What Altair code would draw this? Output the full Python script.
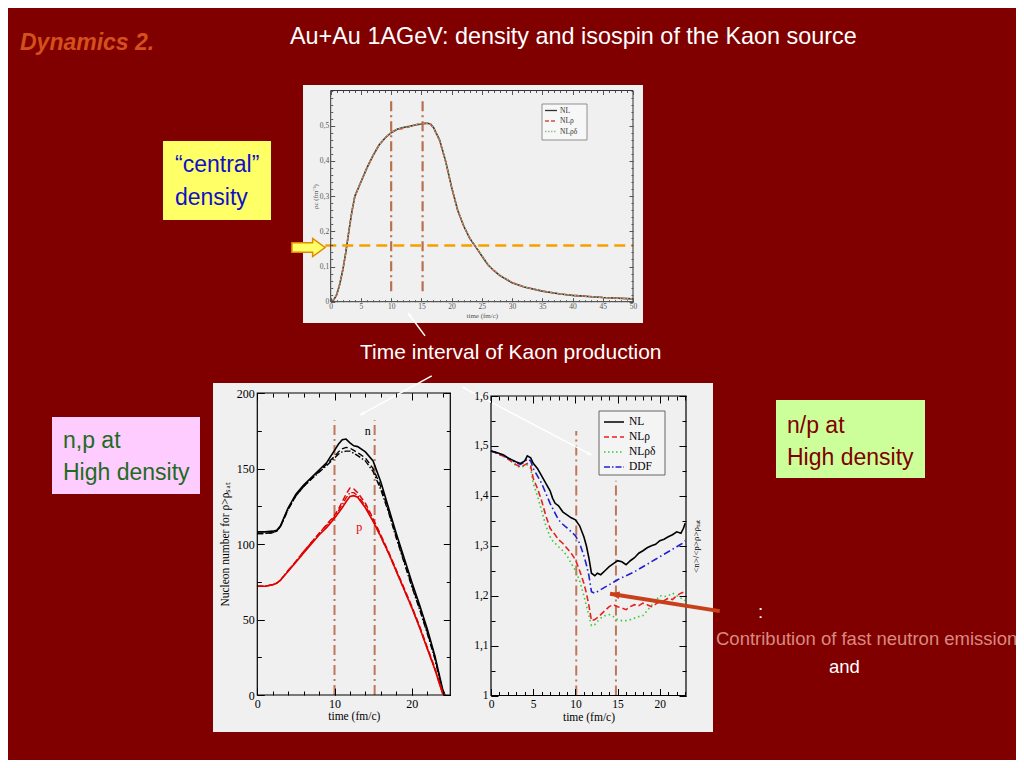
import altair as alt
import pandas as pd

W, H = 1008, 752
OFF = 8


def X(v):
    return v - OFF


def Y(v):
    return v - OFF


# ---------------- data ----------------
top_t = [0, 0.5, 1, 1.5, 2, 2.5, 3, 3.5, 4, 5, 6, 7, 8, 9, 10, 11, 12, 13, 14, 15, 16, 16.5,
         17, 18, 19, 20, 21, 22, 23, 24, 25, 26, 27, 28, 30, 32, 35, 38, 40, 45, 50]
top_nl = [0.0, 0.005, 0.02, 0.05, 0.09, 0.14, 0.2, 0.255, 0.3, 0.34, 0.38, 0.415, 0.445, 0.465,
          0.48, 0.49, 0.495, 0.498, 0.502, 0.505, 0.507, 0.505, 0.495, 0.46, 0.40, 0.325, 0.26,
          0.215, 0.18, 0.155, 0.13, 0.105, 0.088, 0.074, 0.054, 0.042, 0.03, 0.022, 0.018, 0.012, 0.008]
top_nlr = [0.0, 0.005, 0.021, 0.051, 0.091, 0.141, 0.2, 0.256, 0.3, 0.341, 0.381, 0.416, 0.446, 0.466,
           0.482, 0.489, 0.492, 0.497, 0.503, 0.507, 0.508, 0.504, 0.493, 0.458, 0.398, 0.324, 0.26,
           0.216, 0.181, 0.156, 0.131, 0.106, 0.089, 0.075, 0.055, 0.042, 0.03, 0.022, 0.018, 0.012, 0.008]
top_nlrd = [0.0, 0.005, 0.02, 0.05, 0.09, 0.14, 0.2, 0.255, 0.3, 0.34, 0.38, 0.415, 0.445, 0.466,
            0.481, 0.49, 0.494, 0.498, 0.503, 0.506, 0.507, 0.505, 0.494, 0.459, 0.399, 0.325, 0.261,
            0.216, 0.181, 0.156, 0.131, 0.106, 0.089, 0.075, 0.055, 0.042, 0.031, 0.022, 0.018, 0.012, 0.008]
top_vlines = [10, 15.2]
top_vline_from = [0.03, 0.03]
top_vline_to = [0.57, 0.57]
sat_density = 0.16
top_names = ["NL", "NLρ", "NLρδ"]

bl_t = [0, 1, 2, 2.5, 3, 4, 5, 6, 7, 8, 9, 10, 10.5, 11, 11.5, 12, 12.5, 13, 14, 15, 16, 17, 18,
        19, 20, 21, 22, 23, 23.5, 24, 24.3]
n_nl = [108, 108, 108.5, 109, 112, 124, 133, 139, 144, 149, 154, 162, 166, 169, 169.5, 167, 165,
        164.5, 161, 155, 141, 124, 107, 91, 75, 60, 44, 26, 15, 4, 0]
n_nlr = [107, 107, 107.5, 108.5, 111.5, 123, 132, 138, 143, 148, 153, 158, 161, 163, 164, 163.5,
         162, 160.5, 157, 150, 138, 122, 105, 89, 73, 58, 42, 25, 14, 3, 0]
n_nlrd = [107, 107, 107.5, 108.5, 111.5, 123, 132, 138, 143, 147.5, 152, 157, 159.5, 161, 161.5,
          161.5, 160, 158.5, 155, 148, 136, 121, 104, 88, 72, 57, 41, 24, 13, 3, 0]
p_nl = [72, 72, 73, 74, 76, 82, 88, 94, 100, 106, 111, 117, 120.5, 124, 128, 131.5, 132, 131, 124,
        115, 105, 94, 82, 70, 58, 45, 31, 17, 9, 1, 0]
p_nlr = [72, 72, 73, 74, 76, 82.5, 88.5, 95, 101, 107, 113, 119, 123, 128, 133, 137, 136.5, 134,
         127, 117, 106, 95, 83, 71, 59, 46, 32, 18, 10, 2, 0]
p_nlrd = [72, 72, 73, 74, 76, 82.5, 88.5, 95, 101, 107, 112.5, 118, 122, 126, 130.5, 134, 134, 132,
          125.5, 115.5, 104.5, 94, 82, 70, 58, 45, 31, 17, 9, 1.5, 0]
bl_vlines = [10, 15.2]
bl_vline_from = [0, 0]
bl_vline_to = [182, 182]
bl_labels = ["n", "p"]
bl_label_t = [14.3, 13.2]
bl_label_v = [175, 111]

br_t = [0, 0.5, 1, 1.5, 2, 2.5, 3, 3.5, 4, 4.3, 4.7, 5, 5.5, 6, 6.5, 7, 7.3, 7.6, 8, 8.5, 9, 9.5,
        10, 10.5, 11, 11.3, 11.6, 11.9, 12.3, 12.6, 13, 13.5, 14, 14.5, 15, 15.5, 16, 16.5, 17,
        17.5, 18, 18.5, 19, 19.5, 20, 20.5, 21, 21.5, 22, 22.5, 22.8, 23]
br_nl = [1.49, 1.488, 1.485, 1.482, 1.476, 1.472, 1.468, 1.465, 1.47, 1.48, 1.476, 1.465, 1.455,
         1.44, 1.425, 1.41, 1.395, 1.385, 1.38, 1.368, 1.362, 1.356, 1.352, 1.34, 1.318, 1.3, 1.275,
         1.245, 1.24, 1.245, 1.242, 1.25, 1.258, 1.264, 1.27, 1.268, 1.262, 1.27, 1.276, 1.285,
         1.29, 1.296, 1.3, 1.303, 1.31, 1.313, 1.318, 1.322, 1.328, 1.325, 1.335, 1.345]
br_nlr = [1.49, 1.487, 1.483, 1.479, 1.474, 1.468, 1.462, 1.458, 1.462, 1.465, 1.46, 1.435, 1.415,
          1.39, 1.36, 1.335, 1.328, 1.322, 1.312, 1.305, 1.295, 1.285, 1.272, 1.25, 1.225, 1.205,
          1.18, 1.15, 1.152, 1.156, 1.162, 1.17, 1.178, 1.182, 1.178, 1.175, 1.172, 1.178, 1.182,
          1.18, 1.185, 1.182, 1.178, 1.183, 1.188, 1.19, 1.195, 1.192, 1.2, 1.205, 1.207, 1.21]
br_nlrd = [1.49, 1.487, 1.483, 1.479, 1.474, 1.468, 1.46, 1.457, 1.46, 1.462, 1.455, 1.425, 1.4,
           1.37, 1.34, 1.318, 1.31, 1.305, 1.298, 1.29, 1.28, 1.265, 1.25, 1.23, 1.2, 1.18, 1.16,
           1.14, 1.142, 1.148, 1.155, 1.16, 1.162, 1.158, 1.152, 1.15, 1.15, 1.152, 1.155, 1.158,
           1.16, 1.17, 1.18, 1.19, 1.2, 1.198, 1.2, 1.205, 1.2, 1.195, 1.192, 1.19]
br_ddf = [1.49, 1.487, 1.484, 1.48, 1.476, 1.471, 1.466, 1.463, 1.468, 1.474, 1.47, 1.455, 1.44,
          1.425, 1.405, 1.385, 1.375, 1.365, 1.352, 1.343, 1.336, 1.328, 1.32, 1.305, 1.28, 1.262,
          1.24, 1.208, 1.205, 1.208, 1.212, 1.217, 1.222, 1.227, 1.232, 1.236, 1.24, 1.244, 1.248,
          1.253, 1.258, 1.263, 1.268, 1.273, 1.278, 1.283, 1.288, 1.293, 1.298, 1.303, 1.306, 1.31]
br_vlines = [10.1, 14.8]
br_vline_from = [1.0, 1.0]
br_vline_to = [1.53, 1.43]
br_names = ["NL", "NLρ", "NLρδ", "DDF"]

# annotation arrows, in the data units of the panel they point into
top_arrow = [15.6, -0.097, 12.8, -0.032]
bl_arrow = [22.6, 211.3, 13.3, 185.4]
br_arrow_white = [-3.4, 1.618, 11.9, 1.482]
br_arrow_red = [27.1, 1.169, 14.1, 1.204]

# ---------------- helpers ----------------
one = pd.DataFrame({"k": [0]})
SERIF = "Liberation Serif"
SANS = "Liberation Sans"


def sc(dom, rng):
    return alt.Scale(domain=dom, range=rng, nice=False, zero=False)


def rect(x1, y1, x2, y2, **kw):
    return alt.Chart(one).mark_rect(**kw).encode(
        x=alt.value(X(x1)), x2=alt.value(X(x2)), y=alt.value(Y(y1)), y2=alt.value(Y(y2)))


def text(s, x, y, size, color, font=SANS, **kw):
    return alt.Chart(one).mark_text(text=s, fontSize=size, color=color, font=font,
                                    align=kw.pop("align", "left"),
                                    baseline=kw.pop("baseline", "alphabetic"), **kw).encode(
        x=alt.value(X(x)), y=alt.value(Y(y)))


def seg(x1, x2, y, color, dash=None, w=1.2):
    kw = dict(color=color, strokeWidth=w)
    if dash:
        kw["strokeDash"] = dash
    return alt.Chart(one).mark_rule(**kw).encode(
        x=alt.value(X(x1)), x2=alt.value(X(x2)), y=alt.value(Y(y)))


def series(ts, vs, sx, sy, color, dash=None, w=1.5):
    df = pd.DataFrame({"t": ts, "v": vs})
    kw = dict(color=color, strokeWidth=w)
    if dash:
        kw["strokeDash"] = dash
    return alt.Chart(df).mark_line(**kw).encode(
        x=alt.X("t:Q", scale=sx, axis=None), y=alt.Y("v:Q", scale=sy, axis=None))


def vrules(ts, a, b, sx, sy, color="#c0765a", w=2):
    df = pd.DataFrame({"t": ts, "a": a, "b": b})
    return alt.Chart(df).mark_rule(color=color, strokeWidth=w, strokeDash=[10, 4, 2, 4]).encode(
        x=alt.X("t:Q", scale=sx, axis=None), y=alt.Y("a:Q", scale=sy, axis=None), y2="b:Q")


HEAD = "M 0 0 L 2 -0.8 L 2 0.8 Z"


def arrow(coords, sx, sy, color, w, angle, size):
    df = pd.DataFrame({"x1": [coords[0]], "y1": [coords[1]], "x2": [coords[2]], "y2": [coords[3]]})
    line = alt.Chart(df).mark_rule(color=color, strokeWidth=w).encode(
        x=alt.X("x1:Q", scale=sx, axis=None), y=alt.Y("y1:Q", scale=sy, axis=None),
        x2="x2:Q", y2="y2:Q")
    head = alt.Chart(df).mark_point(shape=HEAD, angle=angle, filled=True, color=color, size=size,
                                    opacity=1).encode(
        x=alt.X("x2:Q", scale=sx, axis=None), y=alt.Y("y2:Q", scale=sy, axis=None))
    return [line, head]


def ax(orient, box, ts, values, color="#000", labels=False, title="", **kw):
    l, t, r, b = X(box[0]), Y(box[1]), X(box[2]), Y(box[3])
    if orient == "bottom":
        off = (b - ts) - H
    elif orient == "top":
        off = -(t + ts)
    elif orient == "left":
        off = -(l + ts)
    else:
        off = (r - ts) - W
    return alt.Axis(orient=orient, offset=off, tickSize=ts, values=values, labels=labels,
                    title=title, domain=False, grid=False, ticks=True, tickColor=color,
                    tickWidth=1, labelFlush=False, labelOverlap=False, zindex=2, **kw)


def carrier(sx, sy, xa, ya, x0, y0):
    df = pd.DataFrame({"t": [x0], "v": [y0]})
    return alt.Chart(df).mark_point(opacity=0).encode(
        x=alt.X("t:Q", scale=sx, axis=xa), y=alt.Y("v:Q", scale=sy, axis=ya))


layers = []

# ---------------- top panel ----------------
TB = (330.7, 90.5, 633, 301.7)
sx_t = sc([0, 50], [X(TB[0]), X(TB[2])])
sy_t = sc([0, 0.6], [Y(TB[3]), Y(TB[1])])
layers.append(rect(303, 85, 643, 323, fill="#f0f0f0"))
layers.append(series(top_t, top_nl, sx_t, sy_t, "#333333", w=1.6))
layers.append(series(top_t, top_nlr, sx_t, sy_t, "#d05040", dash=[5, 3], w=1.4))
layers.append(series(top_t, top_nlrd, sx_t, sy_t, "#90c080", dash=[1.5, 2], w=1.2))
layers.append(vrules(top_vlines, top_vline_from, top_vline_to, sx_t, sy_t, "#b8704f", 2.2))
layers.append(alt.Chart(pd.DataFrame({"a": [-0.9], "b": [50], "v": [sat_density]})).mark_rule(
    color="#f5a000", strokeWidth=2.5, strokeDash=[11, 6]).encode(
    x=alt.X("a:Q", scale=sx_t, axis=None), x2="b:Q", y=alt.Y("v:Q", scale=sy_t, axis=None)))
layers.append(rect(TB[0], TB[1], TB[2], TB[3], fillOpacity=0, stroke="#333", strokeWidth=1))
tick_lab = dict(labelFont=SERIF, labelFontSize=7.5, labelColor="#555")
tick_tit = dict(titleFont=SERIF, titleFontSize=7, titleColor="#555", titleFontWeight="normal")
layers.append(carrier(
    sx_t, sy_t,
    ax("bottom", TB, 4, list(range(0, 51, 5)), "#555", labels=True, title="time (fm/c)",
       labelPadding=1, titlePadding=1, **tick_lab, **tick_tit),
    ax("left", TB, 4, [0, 0.1, 0.2, 0.3, 0.4, 0.5], "#555", labels=True, title="ρc (fm⁻³)",
       labelPadding=2, titlePadding=1,
       labelExpr="datum.value == 0 ? '0' : replace(format(datum.value, '.1f'), '.', ',')",
       **tick_lab, **tick_tit), 0, 0))
layers.append(carrier(sx_t, sy_t, ax("bottom", TB, 2, list(range(0, 51)), "#555"),
                      ax("left", TB, 2, [round(i * 0.02, 2) for i in range(31)], "#555"), 0, 0))
layers.append(carrier(sx_t, sy_t, ax("top", TB, 4, list(range(0, 51, 5)), "#555"),
                      ax("right", TB, 4, [0, 0.1, 0.2, 0.3, 0.4, 0.5], "#555"), 0, 0))
layers.append(carrier(sx_t, sy_t, ax("top", TB, 2, list(range(0, 51)), "#555"),
                      ax("right", TB, 2, [round(i * 0.02, 2) for i in range(31)], "#555"), 0, 0))
# legend
layers.append(rect(542, 104, 587, 140, fill="#f7f7f7", stroke="#777", strokeWidth=0.8))
top_styles = [("#333333", None), ("#d05040", [4, 2]), ("#90c080", [1.5, 1.5])]
for i, (nm, (c, d)) in enumerate(zip(top_names, top_styles)):
    yy = 110.5 + i * 10.5
    layers.append(seg(545, 557, yy, c, d, 1.3))
    layers.append(text(nm, 560, yy, 7.5, "#333", font=SERIF, baseline="middle"))
# yellow arrow
layers.append(alt.Chart(one).mark_point(
    shape="M -1 -0.28 L 0.25 -0.28 L 0.25 -0.55 L 1 0 L 0.25 0.55 L 0.25 0.28 L -1 0.28 Z",
    filled=True, fill="#ffff66", stroke="#e08a00", strokeWidth=1.5, size=1100, opacity=1).encode(
    x=alt.value(X(308.5)), y=alt.value(Y(247.5))))
layers += arrow(top_arrow, sx_t, sy_t, "white", 1.5, 53.5, 18)

# ---------------- bottom-left panel ----------------
LB = (257.3, 393, 450.3, 695)
sx_l = sc([0, 25], [X(LB[0]), X(LB[2])])
sy_l = sc([0, 200], [Y(LB[3]), Y(LB[1])])
layers.append(rect(213, 383, 463, 732, fill="#f0f0f0"))
layers.append(vrules(bl_vlines, bl_vline_from, bl_vline_to, sx_l, sy_l, "#c0765a", 2))
layers.append(series(bl_t, n_nlrd, sx_l, sy_l, "#000", dash=[6, 2, 1.5, 2], w=1.4))
layers.append(series(bl_t, n_nlr, sx_l, sy_l, "#000", dash=[6, 3], w=1.4))
layers.append(series(bl_t, n_nl, sx_l, sy_l, "#000", w=1.6))
layers.append(series(bl_t, p_nlrd, sx_l, sy_l, "#e00000", dash=[6, 2, 1.5, 2], w=1.4))
layers.append(series(bl_t, p_nlr, sx_l, sy_l, "#e00000", dash=[6, 3], w=1.4))
layers.append(series(bl_t, p_nl, sx_l, sy_l, "#e00000", w=1.6))
lab_df = pd.DataFrame({"t": bl_label_t, "v": bl_label_v, "s": bl_labels, "c": ["#000", "#e00000"]})
layers.append(alt.Chart(lab_df).mark_text(font=SERIF, fontSize=12, baseline="middle").encode(
    x=alt.X("t:Q", scale=sx_l, axis=None), y=alt.Y("v:Q", scale=sy_l, axis=None),
    text="s:N", color=alt.Color("c:N", scale=None)))
layers.append(rect(LB[0], LB[1], LB[2], LB[3], fillOpacity=0, stroke="#000", strokeWidth=1.2))
lab12 = dict(labelFont=SERIF, labelFontSize=12, labelColor="#000")
tit12 = dict(titleFont=SERIF, titleFontSize=11.5, titleColor="#000", titleFontWeight="normal")
layers.append(carrier(
    sx_l, sy_l,
    ax("bottom", LB, 7, [0, 10, 20], labels=True, title="time (fm/c)", labelPadding=3,
       titlePadding=1, **lab12, **tit12),
    ax("left", LB, 7, [0, 50, 100, 150, 200], labels=True, title="Nucleon number for ρ>ρₛₐₜ",
       labelPadding=3, titlePadding=6, **lab12, **tit12), 0, 0))
layers.append(carrier(sx_l, sy_l, ax("bottom", LB, 4, list(range(0, 25, 2))),
                      ax("left", LB, 4, list(range(0, 201, 25))), 0, 0))
layers.append(carrier(sx_l, sy_l, ax("top", LB, 7, [0, 10, 20]),
                      ax("right", LB, 7, [0, 50, 100, 150, 200]), 0, 0))
layers.append(carrier(sx_l, sy_l, ax("top", LB, 4, list(range(0, 25, 2))),
                      ax("right", LB, 4, list(range(0, 201, 25))), 0, 0))
layers += arrow(bl_arrow, sx_l, sy_l, "white", 1.5, 331.6, 22)

# ---------------- bottom-right panel ----------------
RB = (491, 396, 686, 695.5)
sx_r = sc([0, 23.1], [X(RB[0]), X(RB[2])])
sy_r = sc([1.0, 1.6], [Y(RB[3]), Y(RB[1])])
layers.append(rect(463, 383, 713, 732, fill="#f0f0f0"))
layers.append(vrules(br_vlines, br_vline_from, br_vline_to, sx_r, sy_r, "#c0765a", 2))
layers.append(series(br_t, br_nlrd, sx_r, sy_r, "#33cc33", dash=[1.5, 3], w=1.6))
layers.append(series(br_t, br_nlr, sx_r, sy_r, "#e82020", dash=[6, 3], w=1.6))
layers.append(series(br_t, br_ddf, sx_r, sy_r, "#2020d0", dash=[7, 3, 1.5, 3], w=1.6))
layers.append(series(br_t, br_nl, sx_r, sy_r, "#000", w=1.6))
layers.append(rect(RB[0], RB[1], RB[2], RB[3], fillOpacity=0, stroke="#000", strokeWidth=1.2))
lab11 = dict(labelFont=SERIF, labelFontSize=11.5, labelColor="#000")
layers.append(carrier(
    sx_r, sy_r,
    ax("bottom", RB, 7, [0, 5, 10, 15, 20], labels=True, title="time (fm/c)", labelPadding=3,
       titlePadding=1, **lab11, **tit12),
    ax("left", RB, 7, [1.0, 1.1, 1.2, 1.3, 1.4, 1.5, 1.6], labels=True, title="",
       labelPadding=3,
       labelExpr="datum.value == 1 ? '1' : replace(format(datum.value, '.1f'), '.', ',')",
       **lab11), 0, 1))
layers.append(carrier(sx_r, sy_r, ax("bottom", RB, 4, list(range(0, 24))),
                      ax("left", RB, 4, [round(1 + i * 0.05, 2) for i in range(13)]), 0, 1))
layers.append(carrier(
    sx_r, sy_r, ax("top", RB, 7, [0, 5, 10, 15, 20]),
    ax("right", RB, 7, [1.0, 1.1, 1.2, 1.3, 1.4, 1.5, 1.6], title="<n>/<p>ρ>ρₛₐₜ",
       titleFont=SERIF, titleFontSize=9, titleColor="#000", titleFontWeight="normal",
       titlePadding=5, titleAngle=270, titleBaseline="top"), 0, 1))
layers.append(carrier(sx_r, sy_r, ax("top", RB, 4, list(range(0, 24))),
                      ax("right", RB, 4, [round(1 + i * 0.05, 2) for i in range(13)]), 0, 1))
# legend
layers.append(rect(599, 411, 665, 475, fill="#f4f4f4", stroke="#666", strokeWidth=1))
br_styles = [("#000", None), ("#e82020", [5, 3]), ("#33cc33", [1.5, 2.5]), ("#2020d0", [6, 2, 1.5, 2])]
for i, (nm, (c, d)) in enumerate(zip(br_names, br_styles)):
    yy = 422 + i * 15
    layers.append(seg(604, 624, yy, c, d, 1.5))
    layers.append(text(nm, 629, yy, 11.5, "#000", font=SERIF, baseline="middle"))
layers += arrow(br_arrow_white, sx_r, sy_r, "white", 1.5, 207.6, 22)
layers += arrow(br_arrow_red, sx_r, sy_r, "#c8401a", 4, 8.9, 90)

# ---------------- slide texts ----------------
layers.append(text("Dynamics 2.", 20, 50, 23, "#d4501c", fontWeight="bold", fontStyle="italic"))
layers.append(text("Au+Au 1AGeV: density and isospin of the Kaon source", 290, 44, 23.4, "white"))
layers.append(text("Time interval of Kaon production", 360, 359, 21, "white"))

layers.append(rect(163, 141, 271, 220, fill="#ffff66"))
layers.append(text("“central”", 175, 172, 23, "#1010c8"))
layers.append(text("density", 175, 205, 23, "#1010c8"))

layers.append(rect(52, 417, 200, 494, fill="#ffccff"))
layers.append(text("n,p at", 63, 448, 23, "#1e6b1e"))
layers.append(text("High density", 63, 480, 23, "#1e6b1e"))

layers.append(rect(776, 400, 925, 478, fill="#ccff99"))
layers.append(text("n/p at", 787, 433, 23, "#800000"))
layers.append(text("High density", 787, 465, 23, "#800000"))

layers.append(text(":", 758, 618, 18.5, "white"))
layers.append(text("Contribution of fast neutron emission", 716, 645, 18.5, "#d98a80"))
layers.append(text("and", 829, 673, 18.5, "white"))

chart = alt.layer(*layers).resolve_scale(x="independent", y="independent").properties(
    width=W, height=H, padding=0, background="#800000",
    autosize=alt.AutoSizeParams(type="none"),
).configure_view(strokeWidth=0)

chart.save("out.html", embed_options={"renderer": "svg", "actions": False})
